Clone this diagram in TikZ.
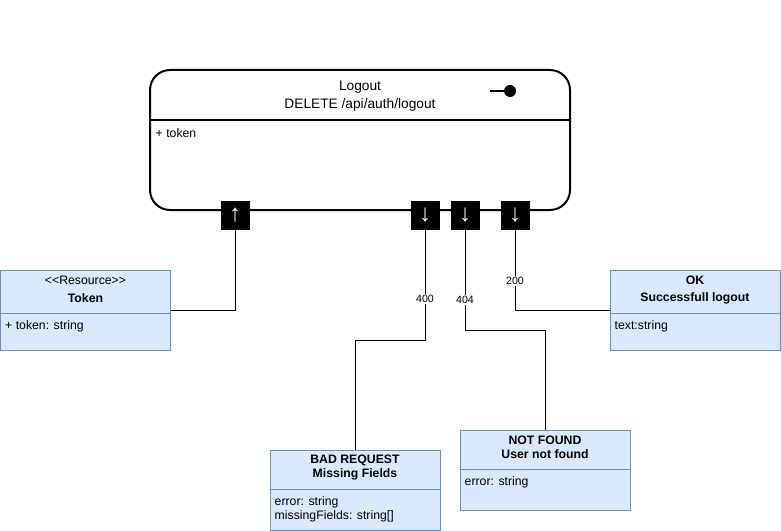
\documentclass[tikz,border=0pt]{standalone}
\usepackage{fontspec}
\setmainfont{Liberation Sans}
\usepackage{xcolor}
\usepackage{tikz}
\usetikzlibrary{arrows.meta}
\definecolor{umlfill}{HTML}{DAE8FC}
\definecolor{umlline}{HTML}{6C8EBF}

\begin{document}
\begin{tikzpicture}[x=0.75pt, y=-0.75pt, font=\fontsize{9.2}{11}\selectfont,
	classbox/.style={draw=umlline, fill=umlfill, line width=0.75pt, minimum width=127.5pt, minimum height=60pt, inner sep=0pt},
	port/.style={fill=black, text=white, minimum size=21.75pt, inner sep=0pt, font=\fontsize{18}{18}\selectfont},
	wire/.style={line width=0.75pt},
	code/.style={font=\fontsize{8}{9}\selectfont, fill=white, inner sep=1pt}]
	\useasboundingbox (0,0) rectangle (781,531);
	
	% Endpoint
	\node[draw, line width=1.5pt, rounded corners=15pt, minimum width=315pt, minimum height=105pt] (logout) at (360,140) {};
	\draw[line width=1.5pt] (logout.west |- 0,120) -- (logout.east |- 0,120);
	\node[font=\fontsize{10.3}{12}\selectfont] (title) at (360,87.5) {Logout};
	\node[font=\fontsize{10.3}{12}\selectfont] (route) at (360,104.5) {DELETE /api/auth/logout};
	\node[anchor=west] (param) at (151,133) {+ token};
	\draw[line width=1.5pt] (490,91) -- (506,91);
	\fill (510,91) circle (4.5pt);
	
	% Ports
	\node[port] (pin) at (235,215) {↑};
	\node[port] (p400) at (425,215) {↓};
	\node[port] (p404) at (465,215) {↓};
	\node[port] (p200) at (515,215) {↓};
	
	% Resource
	\node[classbox] (token) at (85.5,310) {};
	\draw[umlline] (token.west |- 0,313) -- (token.east |- 0,313);
	\node at (85.5,280) {<\kern0pt<Resource>\kern0pt>};
	\node at (85.5,298) {\textbf{Token}};
	\node[anchor=west] at (0.5,326) {+ token: string};
	
	% 200
	\node[classbox] (ok) at (695,310) {};
	\draw[umlline] (ok.west |- 0,313) -- (ok.east |- 0,313);
	\node at (695,280) {\textbf{OK}};
	\node at (695,298) {\textbf{Successfull logout}};
	\node[anchor=west] at (610,326) {text:string};
	
	% 400
	\node[classbox] (bad) at (355,490) {};
	\draw[umlline] (bad.west |- 0,489) -- (bad.east |- 0,489);
	\node at (355,460) {\textbf{BAD REQUEST}};
	\node at (355,474) {\textbf{Missing Fields}};
	\node[anchor=west] at (270,502) {error: string};
	\node[anchor=west] at (270,516) {missingFields: string[]};
	
	% 404
	\node[classbox] (nf) at (545,470) {};
	\draw[umlline] (nf.west |- 0,469) -- (nf.east |- 0,469);
	\node at (545,440) {\textbf{NOT FOUND}};
	\node at (545,454) {\textbf{User not found}};
	\node[anchor=west] at (460,482) {error: string};
	
	% Connectors
	\coordinate (k400) at (355,340);
	\coordinate (k404) at (545,330);
	\draw[wire] (pin.south) |- (token.east);
	\draw[wire] (p200.south) |- node[code, pos=0.32] {200} (ok.west);
	\draw[wire] (p400.south) |- node[code, pos=0.315] {400} (k400) -- (bad.north);
	\draw[wire] (p404.south) |- node[code, pos=0.35] {404} (k404) -- (nf.north);
	
\end{tikzpicture}
\end{document}
